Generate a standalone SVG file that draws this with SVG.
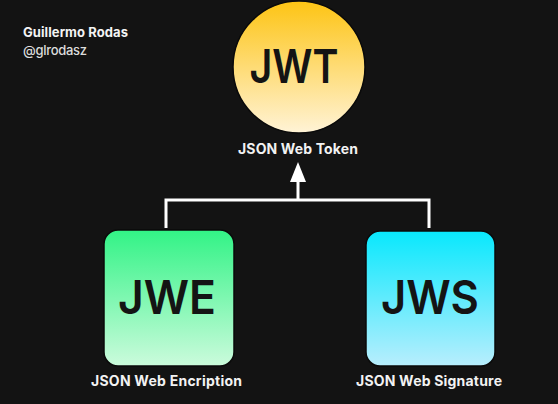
<svg xmlns="http://www.w3.org/2000/svg" width="558" height="404" viewBox="0 0 558 404">
<defs>
<linearGradient id="gY" x1="0" y1="0" x2="0" y2="1"><stop offset="0" stop-color="#fdc414"/><stop offset="1" stop-color="#fff3d6"/></linearGradient>
<linearGradient id="gG" x1="0" y1="0" x2="0" y2="1"><stop offset="0" stop-color="#32f386"/><stop offset="1" stop-color="#cbfbdc"/></linearGradient>
<linearGradient id="gC" x1="0" y1="0" x2="0" y2="1"><stop offset="0" stop-color="#08e8fd"/><stop offset="1" stop-color="#b8eefd"/></linearGradient>
<marker id="ah" viewBox="0 0 20 16" refX="10" refY="8" markerWidth="20" markerHeight="16" markerUnits="userSpaceOnUse" orient="auto"><path d="M0,0 L20,8 L0,16 Z" fill="#fff"/></marker>
<style>
.big{font-family:Inter,"Liberation Sans",sans-serif;font-weight:600;font-size:47px;fill:#141414;text-anchor:middle}
.lbl{font-family:Inter,"Liberation Sans",sans-serif;font-weight:700;font-size:14px;fill:#f2f2f2;text-anchor:middle}
.box{stroke:#0a0a0a;stroke-width:1.5}
.con{fill:none;stroke:#fff;stroke-width:3}
</style>
</defs>
<rect width="558" height="404" fill="#131313"/>
<g id="author">
<text x="23" y="37" font-family="Inter,'Liberation Sans',sans-serif" font-weight="700" font-size="13" fill="#f4f4f4" textLength="105">Guillermo Rodas</text>
<text x="23" y="55" font-family="Inter,'Liberation Sans',sans-serif" font-weight="500" font-size="13" fill="#dcdcdc" textLength="64">@glrodasz</text>
</g>
<g id="connectors">
<path class="con" d="M166,228 V200 H429 V228"/>
<path class="con" d="M298,200 V172" marker-end="url(#ah)"/>
</g>
<g id="jwt">
<circle cx="299" cy="67" r="66" fill="url(#gY)" class="box"/>
<text class="big" x="294" y="83" textLength="89" lengthAdjust="spacingAndGlyphs">JWT</text>
<text class="lbl" x="298" y="154" textLength="120">JSON Web Token</text>
</g>
<g id="jwe">
<rect x="104" y="230" width="130" height="136" rx="14" fill="url(#gG)" class="box"/>
<text class="big" x="167" y="314" textLength="98" lengthAdjust="spacingAndGlyphs">JWE</text>
<text class="lbl" x="166.5" y="386" textLength="151">JSON Web Encription</text>
</g>
<g id="jws">
<rect x="366" y="231" width="129" height="135" rx="14" fill="url(#gC)" class="box"/>
<text class="big" x="430" y="314" textLength="98" lengthAdjust="spacingAndGlyphs">JWS</text>
<text class="lbl" x="429" y="386" textLength="146">JSON Web Signature</text>
</g>
</svg>
